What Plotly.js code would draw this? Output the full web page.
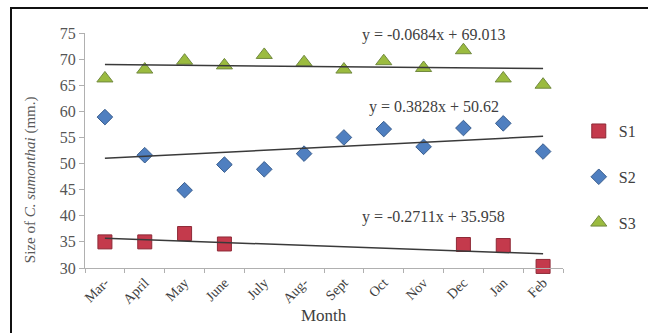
<!DOCTYPE html>
<html>
<head>
<meta charset="utf-8">
<script src="https://cdn.plot.ly/plotly-3.0.1.min.js"></script>
<style>
  html, body { margin: 0; padding: 0; background: #fff; }
  #wrap { position: relative; width: 648px; height: 333px; overflow: hidden; }
  #frame { position: absolute; left: 10px; top: 7px; width: 700px; height: 400px;
           border-left: 2px solid #111; border-top: 2px solid #111; pointer-events: none; }
  #chart { position: absolute; left: 0; top: 0; width: 648px; height: 333px; }
</style>
</head>
<body>
<div id="wrap">
  <div id="chart"></div>
  <div id="frame"></div>
</div>
<script>
const months = ["Mar-", "April", "May", "June", "July", "Aug-", "Sept", "Oct", "Nov", "Dec", "Jan", "Feb"];
const s1 = [35.0, 35.0, 36.6, 34.6, null, null, null, null, null, 34.5, 34.3, 30.3];
const s2 = [58.9, 51.6, 44.9, 49.8, 48.9, 51.9, 55.0, 56.6, 53.2, 56.8, 57.7, 52.3];
const s3 = [66.3, 68.0, 69.7, 68.8, 70.8, 69.4, 68.0, 69.6, 68.3, 71.7, 66.3, 65.1];
const seriesNames = ["S1", "S2", "S3"];
const trendSlopes = [-0.2711, 0.3828, -0.0684];
const trendIntercepts = [35.958, 50.62, 69.013];
const trendLabels = ["y = -0.2711x + 35.958", "y = 0.3828x + 50.62", "y = -0.0684x + 69.013"];

const fills = ["#C43A4C", "#4F7FC0", "#9BBB3F"];
const borders = ["#8E2A37", "#3A5E8E", "#71893F"];
const symbols = ["square", "diamond", "triangle-up"];
const sizes = [14, 12, 14];
const seriesData = [s1, s2, s3];

const traces = [];
seriesData.forEach((vals, i) => {
  traces.push({
    type: "scatter", mode: "markers", name: seriesNames[i],
    x: months, y: vals, legendgroup: seriesNames[i],
    marker: { symbol: symbols[i], size: sizes[i], color: fills[i],
              line: { color: borders[i], width: 1 } },
    cliponaxis: false
  });
});
seriesData.forEach((vals, i) => {
  const n = months.length;
  traces.push({
    type: "scatter", mode: "lines", showlegend: false, hoverinfo: "skip",
    x: [months[0], months[n - 1]],
    y: [trendSlopes[i] * 1 + trendIntercepts[i], trendSlopes[i] * n + trendIntercepts[i]],
    line: { color: "#3a3a3a", width: 1.5 }
  });
});

const serif = "Liberation Serif, Times New Roman, serif";
const eqFont = { family: serif, size: 16, color: "#404040" };
const layout = {
  width: 648, height: 333,
  margin: { l: 85, r: 85, t: 33, b: 65, autoexpand: false },
  paper_bgcolor: "rgba(0,0,0,0)", plot_bgcolor: "rgba(0,0,0,0)",
  font: { family: serif, color: "#404040", size: 13 },
  xaxis: {
    type: "category", range: [-0.5, 11.5],
    showgrid: false, zeroline: false,
    showline: true, linecolor: "#b0b0b0", linewidth: 1,
    ticks: "outside", tickson: "boundaries", ticklen: 4, tickcolor: "#b0b0b0",
    tickangle: -45, tickfont: { family: serif, size: 14, color: "#404040" }
  },
  yaxis: {
    range: [30, 75], dtick: 5, tick0: 30,
    showgrid: false, zeroline: false,
    showline: true, linecolor: "#b0b0b0", linewidth: 1,
    ticks: "outside", ticklen: 5, tickcolor: "#b0b0b0",
    tickfont: { family: serif, size: 16, color: "#555555" }
  },
  legend: {
    x: 1.033, y: 0.655, xanchor: "left", yanchor: "top",
    font: { family: serif, size: 16, color: "#404040" },
    tracegroupgap: 22, bgcolor: "rgba(0,0,0,0)", itemwidth: 30
  },
  showlegend: true,
  annotations: [
    { xref: "paper", yref: "y", x: 0.73, xanchor: "center", y: 74.6, text: trendLabels[2], showarrow: false, font: eqFont },
    { xref: "paper", yref: "y", x: 0.73, xanchor: "center", y: 60.8, text: trendLabels[1], showarrow: false, font: eqFont },
    { xref: "paper", yref: "y", x: 0.73, xanchor: "center", y: 39.8, text: trendLabels[0], showarrow: false, font: eqFont },
    { xref: "paper", yref: "paper", x: 0.5, xanchor: "center", y: -0.2, yanchor: "middle", text: "Month", showarrow: false,
      font: { family: serif, size: 17, color: "#404040" } },
    { xref: "paper", yref: "paper", x: -0.115, xanchor: "center", y: 0.374, textangle: -90,
      text: "Size of <i>C. sumonthai</i> (mm.)", showarrow: false,
      font: { family: serif, size: 15, color: "#595959" } }
  ]
};

Plotly.newPlot("chart", traces, layout, { displayModeBar: false, staticPlot: true });
</script>
</body>
</html>
